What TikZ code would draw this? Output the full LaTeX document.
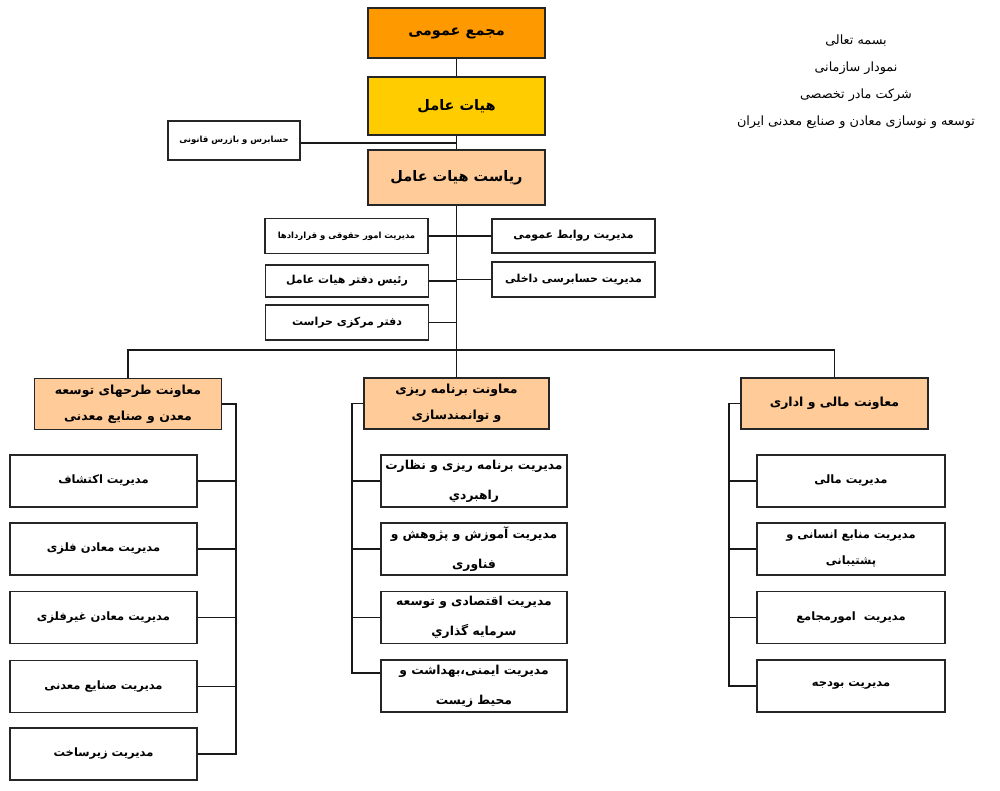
\documentclass[tikz,border=0pt]{standalone}
\usepackage{fontspec}
\TeXXeTstate=1
\newfontfamily\arabicfont[Script=Arabic]{DejaVu Sans}
\usetikzlibrary{calc}
\newcommand{\fa}[1]{\beginR #1\endR}
\definecolor{gmorange}{HTML}{FF9900}
\definecolor{boardyellow}{HTML}{FFCC00}
\definecolor{deppeach}{HTML}{FFCC99}
\tikzset{
	unitbox/.style={draw=black!85, line width=1.8pt, fill=white, inner sep=2pt, align=center,
		font=\arabicfont\bfseries\fontsize{11.5}{28}\selectfont},
	topbox/.style={unitbox, minimum width=177pt, font=\arabicfont\bfseries\fontsize{14.5}{18}\selectfont},
	staffbox/.style={unitbox, minimum width=163pt, minimum height=35pt, font=\arabicfont\bfseries\fontsize{11}{14}\selectfont},
	depbox/.style={unitbox, fill=deppeach, minimum width=187pt, minimum height=51pt, font=\arabicfont\bfseries\fontsize{12.5}{26}\selectfont},
	childbox/.style={unitbox, minimum width=187pt, minimum height=52pt},
	link/.style={draw=black!90, line width=1.8pt}
}

\begin{document}
\begin{tikzpicture}[x=1pt,y=-1pt]
			%%%%% START %%%%%
			\useasboundingbox (0,0) rectangle (1000,790);
			
			\node[topbox, fill=gmorange, minimum height=50pt] (gm) at (456.5, 33) {\fa{مجمع عمومی}};
			\node[topbox, fill=boardyellow, minimum height=58pt] (board) at (456.5, 106) {\fa{هیات عامل}};
			\node[topbox, fill=deppeach, minimum height=55pt] (ceo) at (456.5, 177.5) {\fa{ریاست هیات عامل}};
			\node[unitbox, minimum width=132pt, minimum height=39pt, font=\arabicfont\bfseries\fontsize{8.5}{10}\selectfont] (auditor) at (234, 140.5) {\fa{حسابرس و بازرس قانونی}};
			
			\draw[link] (gm) -- (board);
			\draw[link] (board) -- (ceo);
			\coordinate (auditjoin) at (456.5, 143);
			\draw[link] (auditor.east |- auditjoin) -- (auditjoin);
			
			\node[staffbox, font=\arabicfont\bfseries\fontsize{8.5}{10}\selectfont] (legal) at (346.5, 236) {\fa{مدیریت امور حقوقی و قراردادها}};
			\node[staffbox, minimum height=34pt] (pr) at (573.5, 236) {\fa{مدیریت روابط عمومی}};
			\node[staffbox, minimum height=32pt] (office) at (347, 281) {\fa{رئیس دفتر هیات عامل}};
			\node[staffbox] (inaudit) at (573.5, 279.5) {\fa{مدیریت حسابرسی داخلی}};
			\node[staffbox] (security) at (347, 322.5) {\fa{دفتر مرکزی حراست}};
			
			\coordinate (bus) at (456.5, 350);
			\draw[link] (ceo) -- (bus);
			\draw[link] (legal.east) -- (legal.east -| bus);
			\draw[link] (pr.west) -- (pr.west -| bus);
			\draw[link] (office.east) -- (office.east -| bus);
			\draw[link] (inaudit.west) -- (inaudit.west -| bus);
			\draw[link] (security.east) -- (security.east -| bus);
			
			\node[depbox] (depplan) at (128, 404) {\fa{معاونت طرحهای توسعه}\\\fa{معدن و صنایع معدنی}};
			\node[depbox, minimum width=185pt] (depdev) at (456.5, 403.5) {\fa{معاونت برنامه ریزی}\\\fa{و توانمندسازی}};
			\node[depbox] (depfin) at (834.5, 403.5) {\fa{معاونت مالی و اداری}};
			
			\draw[link] (depplan.north) |- (bus) -| (depfin.north);
			\draw[link] (bus) -- (depdev.north);
			
			\node[childbox] (explore) at (103.5, 481) {\fa{مدیریت اکتشاف}};
			\node[childbox] (metal) at (103.5, 549) {\fa{مدیریت معادن فلزی}};
			\node[childbox] (nonmetal) at (103.5, 617.5) {\fa{مدیریت معادن غیرفلزی}};
			\node[childbox] (industry) at (103.5, 686.5) {\fa{مدیریت صنایع معدنی}};
			\node[childbox] (infra) at (103.5, 754) {\fa{مدیریت زیرساخت}};
			
			\coordinate (spineplan) at (236, 754);
			\draw[link] (depplan.east) -| (spineplan) -- (infra.east);
			\draw[link] (explore.east) -- (explore.east -| spineplan);
			\draw[link] (metal.east) -- (metal.east -| spineplan);
			\draw[link] (nonmetal.east) -- (nonmetal.east -| spineplan);
			\draw[link] (industry.east) -- (industry.east -| spineplan);
			
			\node[childbox, minimum width=186pt, font=\arabicfont\bfseries\fontsize{12.3}{30}\selectfont] (strategy) at (474, 481) {\fa{مدیریت برنامه ریزی و نظارت}\\\fa{راهبردي}};
			\node[childbox, minimum width=186pt, font=\arabicfont\bfseries\fontsize{12.3}{30}\selectfont] (research) at (474, 549) {\fa{مدیریت آموزش و پژوهش و}\\\fa{فناوری}};
			\node[childbox, minimum width=186pt, font=\arabicfont\bfseries\fontsize{12.3}{30}\selectfont] (invest) at (474, 617.5) {\fa{مدیریت اقتصادی و توسعه}\\\fa{سرمایه گذاري}};
			\node[childbox, minimum width=186pt, font=\arabicfont\bfseries\fontsize{12.3}{30}\selectfont] (safety) at (474, 686) {\fa{مدیریت ایمنی،بهداشت و}\\\fa{محیط زیست}};
			
			\coordinate (spinedev) at (352, 673);
			\draw[link] (depdev.west) -| (spinedev) -- (spinedev -| safety.west);
			\draw[link] (strategy.west) -- (strategy.west -| spinedev);
			\draw[link] (research.west) -- (research.west -| spinedev);
			\draw[link] (invest.west) -- (invest.west -| spinedev);
			
			\node[childbox, minimum width=188pt] (finance) at (851, 481) {\fa{مدیریت مالی}};
			\node[childbox, minimum width=188pt, font=\arabicfont\bfseries\fontsize{11.5}{26}\selectfont] (hr) at (851, 549) {\fa{مدیریت منابع انسانی و}\\\fa{پشتیبانی}};
			\node[childbox, minimum width=188pt] (assembly) at (851, 617.5) {\fa{مدیریت\ \ امورمجامع}};
			\node[childbox, minimum width=188pt] (budget) at (851, 686) {\fa{مدیریت بودجه}};
			
			\coordinate (spinefin) at (729, 686);
			\draw[link] (depfin.west) -| (spinefin) -- (budget.west);
			\draw[link] (finance.west) -- (finance.west -| spinefin);
			\draw[link] (hr.west) -- (hr.west -| spinefin);
			\draw[link] (assembly.west) -- (assembly.west -| spinefin);
			
			\node[align=center, font=\arabicfont\fontsize{12.8}{27}\selectfont] (heading) at (856, 82) {\fa{بسمه تعالی}\\\fa{نمودار سازمانی}\\\fa{شرکت مادر تخصصی}\\\fa{توسعه و نوسازی معادن و صنایع معدنی ایران}};
			
			%%%%% END %%%%%
		\end{tikzpicture}
\end{document}
